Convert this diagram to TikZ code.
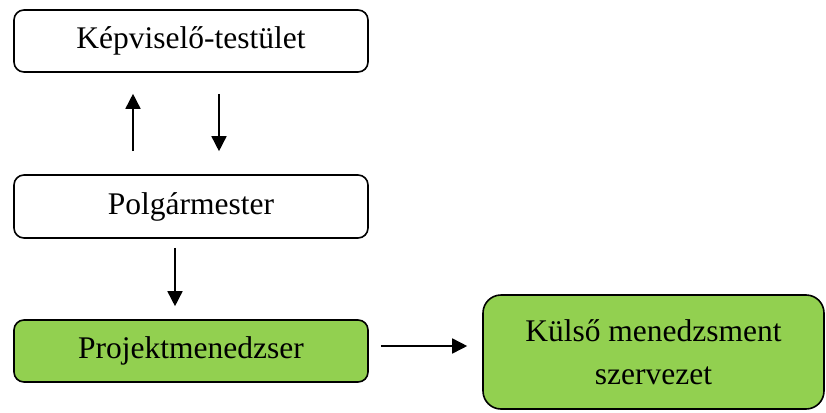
\documentclass[tikz,border=0pt]{standalone}
\usepackage{fontspec}
\setmainfont{Liberation Serif}
\usetikzlibrary{arrows.meta,calc}
\definecolor{boxgreen}{HTML}{92D050}
\begin{document}
\begin{tikzpicture}[x=1pt,y=-1pt,
  box/.style={draw=black,line width=1.6pt,rounded corners=10pt,align=center,
    font=\fontsize{31.5}{43}\selectfont,inner sep=0pt},
  conn/.style={line width=1.6pt,-{Triangle[length=15pt,width=15pt]}}]
\useasboundingbox (0,0) rectangle (826,412);
\node[box,minimum width=354pt,minimum height=62pt] (b1) at (191,41) {Képviselő-testület};
\node[box,minimum width=354pt,minimum height=63pt] (b2) at (191,206.5) {Polgármester};
\node[box,fill=boxgreen,minimum width=354pt,minimum height=62pt] (b3) at (191,351) {Projektmenedzser};
\node[box,fill=boxgreen,rounded corners=18pt,minimum width=341pt,minimum height=114pt] (b4) at (653.5,352) {Külső menedzsment\\szervezet};
\draw[conn,shorten <=23pt,shorten >=21pt] ([xshift=-58pt]b2.north) -- ([xshift=-58pt]b1.south);
\draw[conn,shorten <=21pt,shorten >=23pt] ([xshift=28pt]b1.south) -- ([xshift=28pt]b2.north);
\draw[conn,shorten <=9pt,shorten >=13pt] ([xshift=-16pt]b2.south) -- ([xshift=-16pt]b3.north);
\draw[conn,shorten <=12pt,shorten >=15pt] ([yshift=5pt]b3.east) -- ([yshift=5pt]b3.east -| b4.west);
\end{tikzpicture}
\end{document}
